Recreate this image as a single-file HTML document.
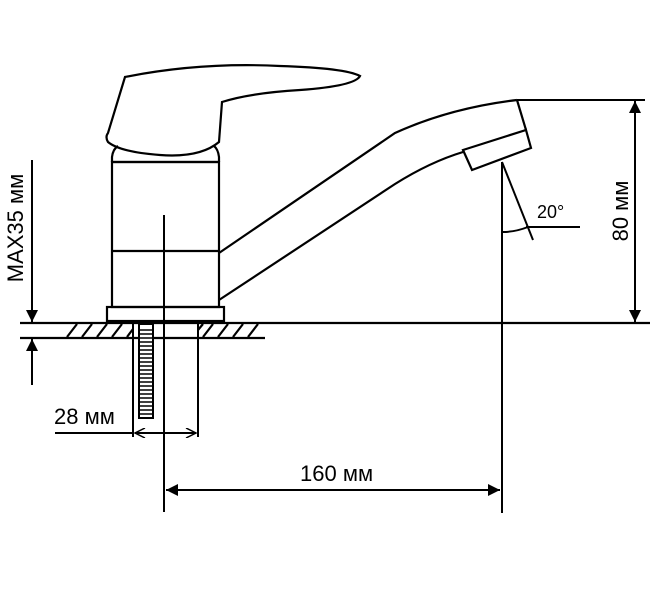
<!DOCTYPE html>
<html><head><meta charset="utf-8"><style>body{margin:0;background:#fff}svg{display:block}</style></head><body>
<svg width="650" height="593" viewBox="0 0 650 593" xmlns="http://www.w3.org/2000/svg">
<defs>
<marker id="a" viewBox="0 0 10 10" refX="10" refY="5" markerWidth="14" markerHeight="10" orient="auto-start-reverse" markerUnits="userSpaceOnUse"><path d="M0,0 L10,5 L0,10" fill="none" stroke="#000" stroke-width="1.5"/></marker>
<marker id="b" viewBox="0 0 10 10" refX="10" refY="5" markerWidth="16" markerHeight="12" orient="auto-start-reverse" markerUnits="userSpaceOnUse"><path d="M0,0 L10,5 L0,10 z" fill="#000"/></marker>
</defs>
<g fill="none" stroke="#000" stroke-width="2.2">
<path d="M125,77 Q200,62 280,66 Q345,68 360,76 Q355,86 300,90 Q250,93 222,102 L219,142 Q200,158 160,155 Q120,152 108,142 Q105,137 108,133 Z"/>
<path d="M112,162 L112,157 Q113,149 118,146 M219,162 L219,157 Q218,149 214,146 M112,162 L219,162"/>
<rect x="112" y="162" width="107" height="145"/>
<line x1="112" y1="251" x2="219" y2="251"/>
<rect x="107" y="307" width="117" height="14"/>
<path d="M219,253 L395,133 Q450,108 517,100"/>
<path d="M219,300 L395,184 Q430,162 463,152"/>
<path d="M517,100 L526,130"/>
<path d="M463,150 L526,130 L531,148 L472,170 Z"/>
<line x1="20" y1="323" x2="650" y2="323"/>
<line x1="20" y1="338" x2="265" y2="338"/>
</g>
<path d="M67,337 L77,324 M82,337 L92,324 M97,337 L107,324 M112,337 L122,324 M127,337 L133,329 M203,337 L213,324 M218,337 L228,324 M233,337 L243,324 M248,337 L258,324 M198,330 L203,324" stroke="#000" stroke-width="2.2"/>
<rect x="139" y="324" width="14" height="94" fill="#fff" stroke="#000" stroke-width="2"/>
<path d="M140,330 H152 M140,334 H152 M140,338 H152 M140,342 H152 M140,346 H152 M140,350 H152 M140,354 H152 M140,358 H152 M140,362 H152 M140,366 H152 M140,370 H152 M140,374 H152 M140,378 H152 M140,382 H152 M140,386 H152 M140,390 H152 M140,394 H152 M140,398 H152 M140,402 H152 M140,406 H152 M140,410 H152 M140,414 H152" stroke="#000" stroke-width="1.5"/>
<g fill="none" stroke="#000" stroke-width="2">
<line x1="133" y1="323" x2="133" y2="437"/>
<line x1="198" y1="323" x2="198" y2="437"/>
<line x1="164" y1="215" x2="164" y2="512"/>
<line x1="55" y1="433" x2="133" y2="433"/>
<line x1="135" y1="433" x2="196" y2="433" marker-start="url(#a)" marker-end="url(#a)"/>
<line x1="32" y1="160" x2="32" y2="322" marker-end="url(#b)"/>
<line x1="32" y1="385" x2="32" y2="339" marker-end="url(#b)"/>
<line x1="502" y1="162" x2="502" y2="513"/>
<line x1="502" y1="162" x2="533" y2="240"/>
<path d="M503,232 Q515,232 528,227"/>
<line x1="526" y1="227" x2="580" y2="227"/>
<line x1="517" y1="100" x2="645" y2="100"/>
<line x1="635" y1="101" x2="635" y2="322" marker-start="url(#b)" marker-end="url(#b)"/>
<line x1="166" y1="490" x2="500" y2="490" marker-start="url(#b)" marker-end="url(#b)"/>
</g>
<g font-family="Liberation Sans, sans-serif" font-size="22" fill="#000">
<text x="54" y="424">28 мм</text>
<text x="300" y="481">160 мм</text>
<text x="537" y="218" font-size="18">20°</text>
<text transform="translate(628,211) rotate(-90)" text-anchor="middle">80 мм</text>
<text transform="translate(23,228) rotate(-90)" text-anchor="middle">MAX35 мм</text>
</g>
</svg>
</body></html>
